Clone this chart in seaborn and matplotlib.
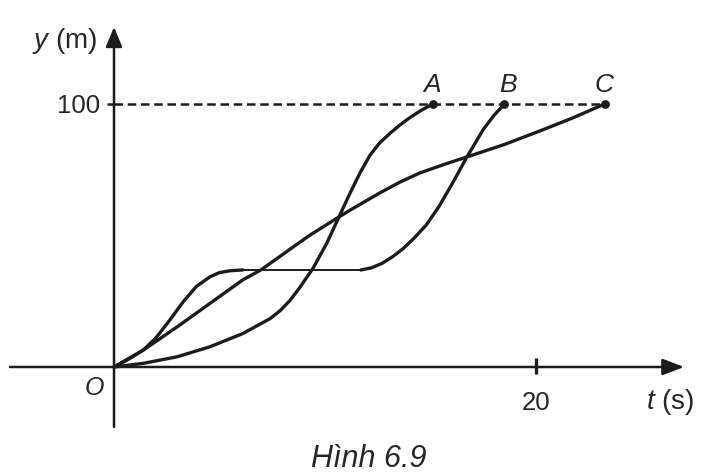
import matplotlib
matplotlib.use("Agg")
import matplotlib.pyplot as plt
import seaborn as sns
import pandas as pd

sns.set_theme(style="white")
plt.rcParams['font.family'] = ['Liberation Sans', 'DejaVu Sans']
plt.rcParams['mathtext.fontset'] = 'custom'
plt.rcParams['mathtext.it'] = 'Liberation Sans:italic'
plt.rcParams['mathtext.rm'] = 'Liberation Sans'

# ---------------- data ----------------
curve_names = ["A", "B", "C"]
t_A = [0, 1.4, 3.0, 4.55, 6.1, 7.4, 7.9, 8.35, 8.82, 9.43, 10.08, 10.63, 11.18, 11.66,
       12.13, 12.6, 13.1, 13.55, 14.0, 14.5, 15.1]
y_A = [0, 1.4, 3.9, 7.7, 12.7, 18.4, 21.6, 25.4, 30.4, 37.5, 47.0, 56.5, 66.0, 73.8,
       80.5, 85.3, 89.0, 92.0, 94.7, 97.3, 100]

t_B = [0, 0.7, 1.4, 2.0, 2.65, 3.3, 3.9, 4.55, 5.0, 5.5, 6.1,
       11.7, 12.2, 12.7, 13.2, 13.7, 14.2, 14.8, 15.4, 16.1, 16.7, 17.5, 18.0, 18.5]
y_B = [0, 3.0, 6.5, 11.2, 17.9, 25.0, 30.6, 34.3, 35.9, 36.6, 36.9,
       36.9, 37.7, 39.4, 41.9, 45.0, 48.8, 54.0, 61.0, 70.7, 79.5, 90.3, 95.6, 100]
B_flat_start, B_flat_end = 10, 11   # indices of the plateau segment

t_C = [0, 1.4, 3.0, 4.55, 6.1, 7.0, 8.5, 9.3, 10.55, 11.2, 12.6, 13.55, 14.5, 15.6,
       16.7, 18.5, 20.2, 21.8, 23.25]
y_C = [0, 6.5, 15.3, 24.2, 33.1, 37.1, 45.7, 50.2, 56.5, 59.7, 66.2, 70.3, 73.8, 76.9,
       79.8, 84.6, 89.8, 94.9, 100]

y_mark = 100
y_tick_label = "100"
t_mark = 20
t_tick_label = "20"
caption = "Hình 6.9"

# ---------------- layout helpers (pixel -> data) ----------------
W, H = 705, 475
X0, Y0 = 114, 367          # pixel position of origin
PX_X, PX_Y = 21.1, 2.63    # pixels per data unit


def P(px, py):
    return ((px - X0) / PX_X, (Y0 - py) / PX_Y)


ink = "#1c1c1c"
txt = "#262626"

fig = plt.figure(figsize=(W / 100, H / 100), dpi=100)
ax = fig.add_axes([0, 0, 1, 1])
ax.set_xlim(-X0 / PX_X, (W - X0) / PX_X)
ax.set_ylim((Y0 - H) / PX_Y, Y0 / PX_Y)
ax.axis("off")

# axes with arrows
ax.annotate("", xy=P(684, 367), xytext=P(10, 367),
            arrowprops=dict(arrowstyle="-|>,head_length=0.65,head_width=0.25",
                            lw=1.8, color=ink, mutation_scale=20,
                            shrinkA=0, shrinkB=0))
ax.annotate("", xy=P(114, 27), xytext=P(114, 427),
            arrowprops=dict(arrowstyle="-|>,head_length=0.6,head_width=0.25",
                            lw=1.8, color=ink, mutation_scale=20,
                            shrinkA=0, shrinkB=0))

# ticks
ax.plot([t_mark, t_mark], [P(0, 358)[1], P(0, 374)[1]], color=ink, lw=2.4,
        solid_capstyle="butt")
ax.plot([P(107, 0)[0], 0], [y_mark, y_mark], color=ink, lw=1.8,
        solid_capstyle="butt")

# dashed reference line
ax.plot([0, t_C[-1]], [y_mark, y_mark], color=ink, lw=1.8,
        linestyle=(0, (3.4, 1.9)), dash_capstyle="butt")

# curves
lw_curve = 2.4
dfA = pd.DataFrame({"t": t_A, "y": y_A})
dfC = pd.DataFrame({"t": t_C, "y": y_C})
dfB1 = pd.DataFrame({"t": t_B[:B_flat_start + 1], "y": y_B[:B_flat_start + 1]})
dfB2 = pd.DataFrame({"t": t_B[B_flat_start:B_flat_end + 1], "y": y_B[B_flat_start:B_flat_end + 1]})
dfB3 = pd.DataFrame({"t": t_B[B_flat_end:], "y": y_B[B_flat_end:]})

for df, lw in [(dfA, lw_curve), (dfC, lw_curve), (dfB1, lw_curve),
               (dfB2, 1.4), (dfB3, lw_curve)]:
    sns.lineplot(data=df, x="t", y="y", ax=ax, color=ink, lw=lw, sort=False,
                 estimator=None, solid_joinstyle="round", solid_capstyle="round")

# end points
ends = pd.DataFrame({"t": [t_A[-1], t_B[-1], t_C[-1]],
                     "y": [y_A[-1], y_B[-1], y_C[-1]],
                     "name": curve_names})
sns.scatterplot(data=ends, x="t", y="y", ax=ax, color=ink, s=40,
                edgecolor=ink, linewidth=0, zorder=5)

# labels of the end points
label_px = {"A": 432, "B": 508, "C": 604}
for name in curve_names:
    x, y = P(label_px[name], 92)
    ax.text(x, y, name, ha="center", va="baseline", fontsize=19,
            style="italic", color=txt)

# axis texts
ax.text(*P(97, 48), r"$y$ (m)", ha="right", va="baseline", fontsize=20, color=txt)
ax.text(*P(100, 113), y_tick_label, ha="right", va="baseline", fontsize=18.5, color=txt)
ax.text(*P(536, 410), t_tick_label, ha="center", va="baseline", fontsize=18.5, color=txt)
ax.text(*P(646, 409), r"$t$ (s)", ha="left", va="baseline", fontsize=20, color=txt)
ax.text(*P(94, 395), "O", ha="center", va="baseline", fontsize=18, style="italic", color=txt)
ax.text(*P(369, 467), caption, ha="center", va="baseline", fontsize=22,
        style="italic", color=txt)

fig.savefig("out.png", dpi=100, facecolor="white")
